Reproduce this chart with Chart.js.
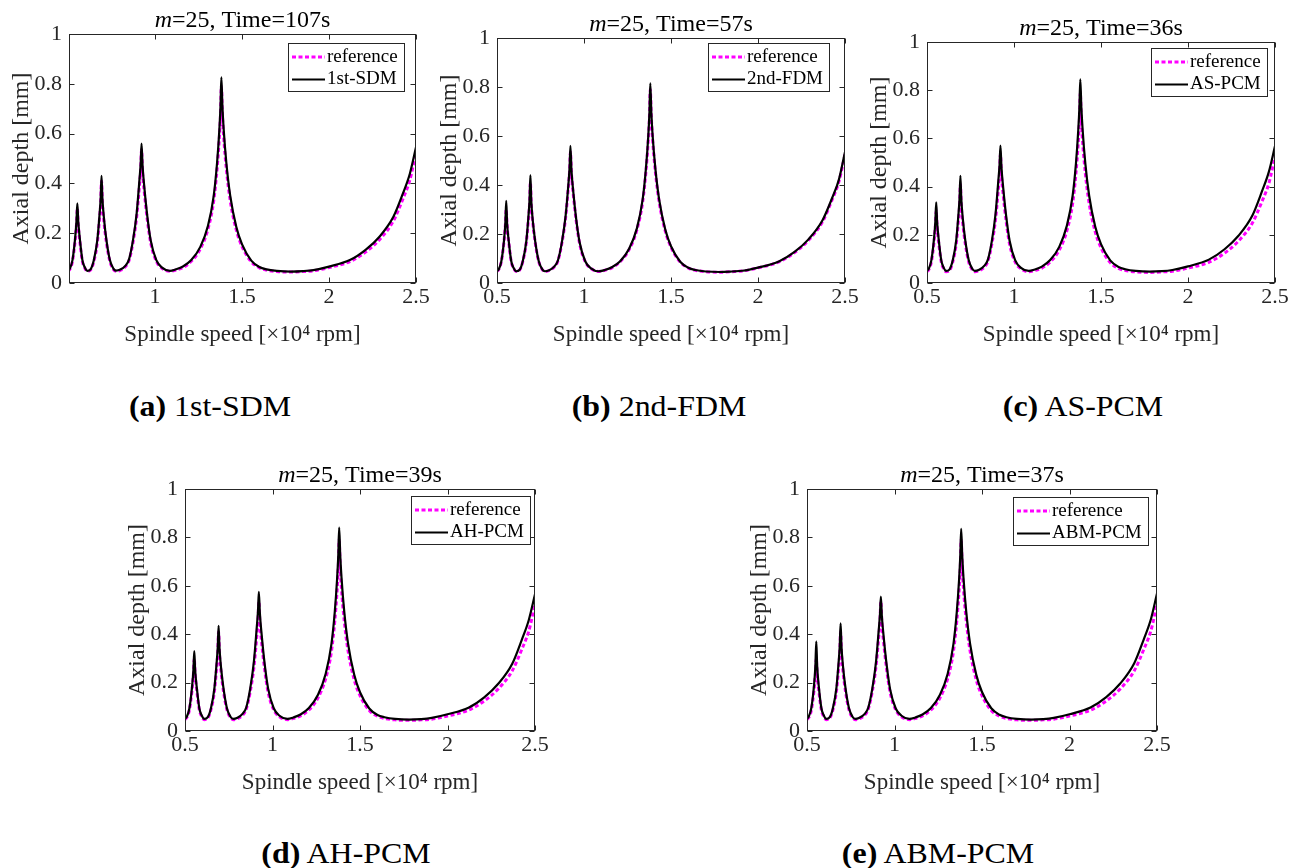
<!DOCTYPE html>
<html>
<head>
<meta charset="utf-8">
<script src="https://cdn.jsdelivr.net/npm/chart.js@4.4.1/dist/chart.umd.min.js"></script>
<style>
  body { margin: 0; background: #fff; }
  #page { position: relative; width: 1298px; height: 868px; overflow: hidden; font-family: "Liberation Serif", "Times New Roman", serif; }
  .panel { position: absolute; }
  .caption { position: absolute; font-size: 29px; color: #000; white-space: nowrap; transform: translate(-50%, -50%) scaleX(1.1); }
</style>
</head>
<body>
<div id="page"></div>
<script>
// spindle speed grid [x10^4 rpm], denser around the lobe peaks
const speed = [
  0.50, 0.51, 0.525, 0.54, 0.548, 0.553, 0.558, 0.568, 0.582, 0.595, 0.61,
  0.63, 0.648, 0.668, 0.68, 0.687, 0.692, 0.697, 0.706, 0.72, 0.74, 0.76, 0.775,
  0.80, 0.83, 0.85, 0.873, 0.894, 0.91, 0.917, 0.922, 0.928, 0.938, 0.955, 0.975, 1.007, 1.04, 1.085,
  1.12, 1.16, 1.208, 1.26, 1.304, 1.337, 1.356, 1.369, 1.376, 1.381, 1.387, 1.394, 1.41, 1.432, 1.467, 1.5, 1.553, 1.6, 1.64, 1.7, 1.78,
  1.85, 1.91, 2.0, 2.12, 2.21, 2.29, 2.37, 2.425, 2.465, 2.5
];

// axial depth limits [mm]
const refDepth = [
  0.048, 0.055, 0.087, 0.168, 0.235, 0.30, 0.235, 0.163, 0.087, 0.061, 0.047,
  0.053, 0.087, 0.163, 0.255, 0.32, 0.41, 0.32, 0.245, 0.163, 0.087, 0.055, 0.047,
  0.051, 0.066, 0.09, 0.163, 0.265, 0.39, 0.455, 0.535, 0.445, 0.365, 0.255, 0.16, 0.087, 0.059, 0.047,
  0.052, 0.062, 0.087, 0.137, 0.217, 0.33, 0.455, 0.58, 0.675, 0.79, 0.675, 0.59, 0.455, 0.33, 0.212, 0.146, 0.085, 0.061, 0.052, 0.046, 0.044,
  0.046, 0.049, 0.062, 0.086, 0.124, 0.174, 0.249, 0.338, 0.414, 0.525
];
const sdmDepth = [
  0.050, 0.058, 0.092, 0.178, 0.25, 0.32, 0.25, 0.173, 0.092, 0.064, 0.049,
  0.056, 0.092, 0.173, 0.27, 0.34, 0.43, 0.34, 0.26, 0.173, 0.092, 0.058, 0.050,
  0.054, 0.07, 0.095, 0.172, 0.28, 0.414, 0.48, 0.56, 0.47, 0.385, 0.27, 0.17, 0.092, 0.062, 0.049,
  0.055, 0.066, 0.092, 0.145, 0.23, 0.35, 0.48, 0.61, 0.71, 0.826, 0.71, 0.62, 0.48, 0.35, 0.225, 0.155, 0.09, 0.064, 0.055, 0.049, 0.046,
  0.048, 0.052, 0.066, 0.092, 0.133, 0.186, 0.266, 0.36, 0.44, 0.545
];
const fdmDepth = [
  0.049, 0.056, 0.089, 0.172, 0.245, 0.335, 0.245, 0.168, 0.089, 0.062, 0.048,
  0.054, 0.089, 0.168, 0.265, 0.34, 0.44, 0.335, 0.252, 0.168, 0.089, 0.056, 0.048,
  0.052, 0.068, 0.092, 0.167, 0.272, 0.40, 0.47, 0.56, 0.46, 0.375, 0.262, 0.165, 0.089, 0.06, 0.048,
  0.053, 0.064, 0.089, 0.141, 0.223, 0.34, 0.468, 0.595, 0.695, 0.815, 0.695, 0.605, 0.468, 0.34, 0.218, 0.15, 0.087, 0.062, 0.053, 0.047, 0.045,
  0.047, 0.05, 0.063, 0.088, 0.127, 0.178, 0.255, 0.345, 0.422, 0.535
];
const asPcmDepth = [
  0.051, 0.059, 0.094, 0.182, 0.255, 0.335, 0.255, 0.176, 0.094, 0.065, 0.05,
  0.057, 0.094, 0.177, 0.278, 0.35, 0.445, 0.35, 0.265, 0.177, 0.094, 0.059, 0.05,
  0.055, 0.072, 0.097, 0.176, 0.287, 0.425, 0.49, 0.57, 0.48, 0.395, 0.277, 0.174, 0.094, 0.063, 0.05,
  0.056, 0.068, 0.095, 0.15, 0.238, 0.362, 0.495, 0.63, 0.73, 0.845, 0.73, 0.64, 0.495, 0.362, 0.233, 0.161, 0.094, 0.067, 0.057, 0.05, 0.047,
  0.049, 0.054, 0.069, 0.097, 0.14, 0.196, 0.28, 0.38, 0.462, 0.568
];
const ahPcmDepth = [
  0.051, 0.059, 0.093, 0.18, 0.252, 0.33, 0.252, 0.175, 0.093, 0.065, 0.05,
  0.057, 0.093, 0.176, 0.275, 0.345, 0.435, 0.345, 0.262, 0.176, 0.093, 0.059, 0.05,
  0.055, 0.072, 0.097, 0.177, 0.289, 0.428, 0.495, 0.575, 0.485, 0.398, 0.278, 0.175, 0.094, 0.063, 0.05,
  0.056, 0.068, 0.095, 0.15, 0.237, 0.36, 0.493, 0.627, 0.727, 0.84, 0.727, 0.637, 0.493, 0.36, 0.232, 0.16, 0.093, 0.066, 0.057, 0.05, 0.047,
  0.049, 0.054, 0.069, 0.096, 0.139, 0.195, 0.278, 0.378, 0.46, 0.565
];
const abmPcmDepth = [
  0.051, 0.06, 0.096, 0.188, 0.27, 0.37, 0.27, 0.18, 0.095, 0.066, 0.05,
  0.057, 0.094, 0.177, 0.278, 0.35, 0.445, 0.35, 0.265, 0.177, 0.094, 0.059, 0.05,
  0.055, 0.071, 0.096, 0.174, 0.283, 0.418, 0.483, 0.555, 0.472, 0.39, 0.274, 0.172, 0.093, 0.063, 0.05,
  0.056, 0.068, 0.095, 0.15, 0.237, 0.36, 0.492, 0.625, 0.725, 0.835, 0.725, 0.635, 0.492, 0.36, 0.233, 0.161, 0.094, 0.067, 0.057, 0.05, 0.047,
  0.049, 0.054, 0.069, 0.097, 0.14, 0.196, 0.28, 0.38, 0.462, 0.568
];

const methods = ['1st-SDM', '2nd-FDM', 'AS-PCM', 'AH-PCM', 'ABM-PCM'];
const letters = ['a', 'b', 'c', 'd', 'e'];
const solveTimes = [107, 57, 36, 39, 37];
const mValue = 25;
const xTickVals = [0.5, 1, 1.5, 2, 2.5];
const xTickValsFirst = [1, 1.5, 2, 2.5];
const yTickVals = [0, 0.2, 0.4, 0.6, 0.8, 1];

// plot-area boxes [left, top, right, bottom], legend insets, caption centres
const layout = [
  { depth: sdmDepth,    box: [69, 34, 416, 283],   xMin: 0.505, ticks: xTickValsFirst, inset: [12, 9], cap: [210, 406] },
  { depth: fdmDepth,    box: [497, 38, 845, 283],  xMin: 0.5,   ticks: xTickVals,      inset: [16, 5], cap: [659, 406] },
  { depth: asPcmDepth,  box: [927, 42, 1275, 283], xMin: 0.5,   ticks: xTickVals,      inset: [8, 6],  cap: [1083, 406] },
  { depth: ahPcmDepth,  box: [185, 489, 535, 731], xMin: 0.5,   ticks: xTickVals,      inset: [5, 7],  cap: [346, 853] },
  { depth: abmPcmDepth, box: [807, 489, 1157, 731], xMin: 0.5,  ticks: xTickVals,      inset: [9, 8],  cap: [938, 853] }
];

const AXIS_W = 68, AXIS_H = 75, PAD_T = 30, PAD_R = 16;
const FONT = '"Liberation Serif", "Times New Roman", serif';
const INK = '#262626';

// axes box, inward ticks, italic title and boxed legend
const framePlugin = {
  id: 'frame',
  afterDraw(chart, args, opts) {
    const { ctx, chartArea: a, scales: { x, y } } = chart;
    ctx.save();
    const l = Math.round(a.left) + 0.5, r = Math.round(a.right) - 0.5;
    const t = Math.round(a.top) + 0.5, b = Math.round(a.bottom) - 0.5;
    ctx.strokeStyle = INK;
    ctx.lineWidth = 1;
    ctx.strokeRect(l, t, r - l, b - t);
    ctx.beginPath();
    x.ticks.forEach(tk => {
      const px = Math.round(x.getPixelForValue(tk.value)) + 0.5;
      ctx.moveTo(px, b); ctx.lineTo(px, b - 5);
      ctx.moveTo(px, t); ctx.lineTo(px, t + 5);
    });
    y.ticks.forEach(tk => {
      const py = Math.round(y.getPixelForValue(tk.value)) + 0.5;
      ctx.moveTo(l, py); ctx.lineTo(l + 5, py);
      ctx.moveTo(r, py); ctx.lineTo(r - 5, py);
    });
    ctx.stroke();

    // title: italic m, then the rest
    const cx = (a.left + a.right) / 2, ty = a.top - 13;
    const rest = '=' + opts.m + ', Time=' + opts.time + 's';
    ctx.font = 'italic 24px ' + FONT;
    const w1 = ctx.measureText('m').width;
    ctx.font = '24px ' + FONT;
    const w2 = ctx.measureText(rest).width;
    const x0 = cx - (w1 + w2) / 2;
    ctx.fillStyle = '#000';
    ctx.textBaseline = 'middle';
    ctx.textAlign = 'left';
    ctx.font = 'italic 24px ' + FONT;
    ctx.fillText('m', x0, ty);
    ctx.font = '24px ' + FONT;
    ctx.fillText(rest, x0 + w1, ty);

    // legend
    const sets = chart.data.datasets;
    ctx.font = '19px ' + FONT;
    const tw = Math.max(...sets.map(d => ctx.measureText(d.label).width));
    const bw = Math.round(tw + 45), bh = 48;
    const bx = Math.round(a.right - opts.inset[0] - bw), by = Math.round(a.top + opts.inset[1]);
    ctx.fillStyle = '#fff';
    ctx.fillRect(bx, by, bw, bh);
    ctx.strokeStyle = INK;
    ctx.lineWidth = 1;
    ctx.strokeRect(bx + 0.5, by + 0.5, bw, bh);
    sets.forEach((d, k) => {
      const yy = by + 14 + k * 22.5;
      ctx.save();
      ctx.strokeStyle = d.borderColor;
      ctx.lineWidth = d.borderWidth;
      ctx.setLineDash(d.borderDash || []);
      ctx.beginPath();
      ctx.moveTo(bx + 4, yy);
      ctx.lineTo(bx + 37, yy);
      ctx.stroke();
      ctx.restore();
      ctx.fillStyle = '#000';
      ctx.fillText(d.label, bx + 39, yy);
    });
    ctx.restore();
  }
};

const page = document.getElementById('page');

layout.forEach((p, i) => {
  const [L, T, R, B] = p.box;
  const cw = (R - L) + AXIS_W + PAD_R;
  const ch = (B - T) + PAD_T + AXIS_H;
  const wrap = document.createElement('div');
  wrap.className = 'panel';
  wrap.style.left = (L - AXIS_W) + 'px';
  wrap.style.top = (T - PAD_T) + 'px';
  const canvas = document.createElement('canvas');
  canvas.width = cw;
  canvas.height = ch;
  canvas.style.width = cw + 'px';
  canvas.style.height = ch + 'px';
  wrap.appendChild(canvas);
  page.appendChild(wrap);

  const cap = document.createElement('div');
  cap.className = 'caption';
  cap.style.left = p.cap[0] + 'px';
  cap.style.top = p.cap[1] + 'px';
  cap.innerHTML = '<b>(' + letters[i] + ')</b> ' + methods[i];
  page.appendChild(cap);

  new Chart(canvas, {
    type: 'line',
    data: {
      datasets: [
        {
          label: 'reference',
          data: speed.map((s, k) => ({ x: s, y: refDepth[k] })),
          borderColor: '#ff00ff',
          borderWidth: 3,
          borderDash: [4, 2.5],
          pointRadius: 0,
          fill: false,
          cubicInterpolationMode: 'monotone',
          order: 2
        },
        {
          label: methods[i],
          data: speed.map((s, k) => ({ x: s, y: p.depth[k] })),
          borderColor: '#000000',
          borderWidth: 2.2,
          pointRadius: 0,
          fill: false,
          cubicInterpolationMode: 'monotone',
          order: 1
        }
      ]
    },
    options: {
      responsive: false,
      animation: false,
      devicePixelRatio: 1,
      layout: { padding: { top: PAD_T, right: PAD_R, left: 0, bottom: 0 } },
      scales: {
        x: {
          type: 'linear',
          min: p.xMin,
          max: 2.5,
          afterBuildTicks: s => { s.ticks = p.ticks.map(v => ({ value: v })); },
          afterFit: s => { s.height = AXIS_H; },
          grid: { display: false, drawTicks: false },
          border: { display: false },
          ticks: { font: { family: FONT, size: 22 }, color: INK, padding: 1, maxRotation: 0, autoSkip: false, callback: v => String(v) },
          title: { display: true, text: 'Spindle speed [×10⁴ rpm]', font: { family: FONT, size: 23 }, color: INK, padding: { top: 0, bottom: 9 } }
        },
        y: {
          min: 0,
          max: 1,
          afterBuildTicks: s => { s.ticks = yTickVals.map(v => ({ value: v })); },
          afterFit: s => { s.width = AXIS_W; },
          grid: { display: false, drawTicks: false },
          border: { display: false },
          ticks: { font: { family: FONT, size: 22 }, color: INK, padding: 7, autoSkip: false, callback: v => String(v) },
          title: { display: true, text: 'Axial depth [mm]', font: { family: FONT, size: 24 }, color: INK, padding: { top: 6, bottom: 0 } }
        }
      },
      plugins: {
        legend: { display: false },
        tooltip: { enabled: false },
        frame: { m: mValue, time: solveTimes[i], inset: p.inset }
      }
    },
    plugins: [framePlugin]
  });
});
</script>
</body>
</html>
